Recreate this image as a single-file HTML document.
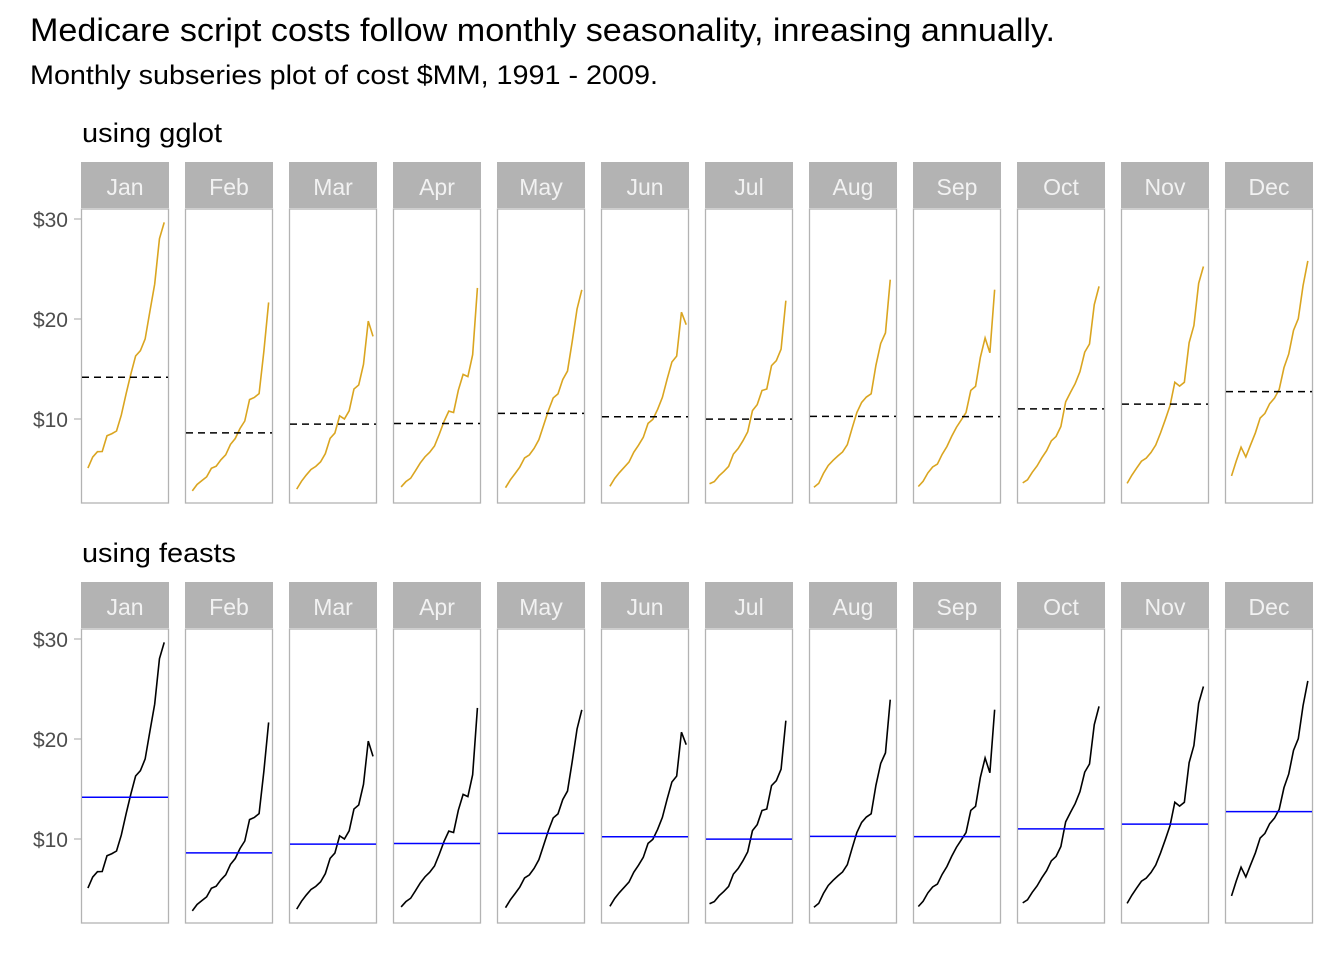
<!DOCTYPE html>
<html><head><meta charset="utf-8"><style>
body{margin:0;background:#fff;font-family:"Liberation Sans",sans-serif;}
svg text{font-family:"Liberation Sans",sans-serif;}
</style></head><body>
<svg id="chart" width="1344" height="960" xmlns="http://www.w3.org/2000/svg">
<text x="30" y="41" font-size="32" textLength="1025" lengthAdjust="spacingAndGlyphs" fill="#000">Medicare script costs follow monthly seasonality, inreasing annually.</text>
<text x="30" y="84" font-size="27" textLength="628" lengthAdjust="spacingAndGlyphs" fill="#000">Monthly subseries plot of cost $MM, 1991 - 2009.</text>
<g id="plots"></g>
</svg>
<script>
const months=["Jan","Feb","Mar","Apr","May","Jun","Jul","Aug","Sep","Oct","Nov","Dec"];
const yTicks=[10,20,30];
const yTickLabels=["$10","$20","$30"];
// a10 monthly values, Jul 1991 - Jun 2008
const series1991=[3.526591,3.180891,3.252221,3.611003,3.565869,4.306371];
const s1992=[5.088335,2.814520,2.985811,3.204780,3.127578,3.270523,3.737851,3.558776,3.777202,3.924490,4.386531,5.810549];
const s1993=[6.192068,3.450857,3.772307,3.734303,3.905399,4.049687,4.315566,4.562185,4.608662,4.667851,5.093841,7.179962];
const s1994=[6.731473,3.841278,4.394076,4.075341,4.540645,4.645615,4.752607,5.350605,5.204455,5.301651,5.773742,6.204593];
const s1995=[6.749484,4.216067,4.949349,4.823045,5.194754,5.170787,5.256742,5.855277,5.490729,6.115293,6.088473,7.416598];
const s1996=[8.329452,5.069206,5.262610,5.597032,6.110996,5.689966,6.486121,6.300566,6.467288,6.828340,6.649683,8.606881];
const s1997=[8.524650,5.277161,5.714165,6.214031,6.411029,6.667000,7.050518,6.704155,7.250777,7.819136,7.398067,10.096401];
const s1998=[8.798710,5.918067,6.534490,6.675896,7.064738,7.383381,7.813750,7.431013,8.275862,8.260494,8.596739,10.558939];
const s1999=[10.391775,6.421214,8.062239,7.297340,7.936988,8.165723,8.717420,9.070964,9.177113,9.251887,9.933136,11.532974];
const s2000=[12.511462,7.457199,8.591191,8.474000,9.386803,9.560399,10.834295,10.643751,9.908162,11.710041,11.340151,12.079132];
const s2001=[14.497581,8.049275,10.312891,9.753358,10.850382,9.961719,11.443601,11.659239,10.647060,12.652134,13.674466,12.965735];
const s2002=[16.300269,9.053485,10.002449,10.788750,12.106705,10.954101,12.844566,12.196500,12.854748,13.542004,13.287640,15.134918];
const s2003=[16.828350,9.800215,10.816994,10.654223,12.512323,12.161210,12.998046,12.517276,13.268658,14.733622,13.669382,16.503966];
const s2004=[18.003768,11.938030,12.997900,12.882645,13.943447,13.989472,15.339097,15.370764,16.142005,16.685754,17.636728,18.869325];
const s2005=[20.778723,12.154552,13.402392,14.459239,14.795102,15.705248,15.829550,17.554701,18.100864,17.496668,19.347265,20.031291];
const s2006=[23.486694,12.536987,15.467018,14.233539,17.783058,16.291602,16.980282,18.612189,16.623343,21.430241,23.575517,23.334206];
const s2007=[28.038383,16.763869,19.792754,16.427305,21.000742,20.681002,21.834890,23.930204,22.930357,23.263340,25.250030,25.806090];
const s2008=[29.665356,21.654285,18.264945,23.107677,22.912510,19.431740];
const yearsFull=[s1992,s1993,s1994,s1995,s1996,s1997,s1998,s1999,s2000,s2001,s2002,s2003,s2004,s2005,s2006,s2007];

const NS="http://www.w3.org/2000/svg";
function mk(tag,attrs,parent){const e=document.createElementNS(NS,tag);for(const k in attrs)e.setAttribute(k,attrs[k]);parent.appendChild(e);return e;}
const pts=months.map(()=>[]);
series1991.forEach((v,i)=>pts[6+i].push([1991+(6+i)/12,v]));
yearsFull.forEach((arr,yi)=>arr.forEach((v,m)=>pts[m].push([1992+yi+m/12,v])));
s2008.forEach((v,m)=>pts[m].push([2008+m/12,v]));

const xMin=1990.55,xMax=2009.0,pw=88;
function xS(px,t){return px+pw*(t-xMin)/(xMax-xMin);}
const root=document.getElementById('plots');
const rows=[{label:"using gglot",lw2:140,top:162,color:"#DAA520",mean:"#000",dash:"7,5",lw:1.6},
            {label:"using feasts",lw2:154,top:582,color:"#000",mean:"#0000ff",dash:"",lw:1.6}];
rows.forEach((r,ri)=>{
  const g=mk('g',{},root);
  
  
  const lab=mk('text',{x:82,y:r.top-20,'font-size':27,fill:'#000',textLength:r.lw2,lengthAdjust:'spacingAndGlyphs'},g);
  
  
  lab.textContent=r.label;
  const pTop=r.top+47,pBot=r.top+341;
  const base=r.top+357;
  const yS=v=>base-10*v;
  yTicks.forEach((t,i)=>{
    const tx=mk('text',{x:68,y:yS(t)+8,'font-size':21,fill:'#4d4d4d','text-anchor':'end'},g);
    
    
    tx.textContent=yTickLabels[i];
    const tk=mk('line',{x1:74,x2:81,y1:yS(t),y2:yS(t),stroke:'#b3b3b3','stroke-width':1.2},g);
    
    
  });
  months.forEach((m,mi)=>{
    const px=81+mi*104;
    const st=mk('rect',{x:px,y:r.top,width:pw,height:46,fill:'#b3b3b3'},g);
    
    
    const stx=mk('text',{x:px+pw/2,y:r.top+33,'font-size':23,fill:'#f2f2f2','text-anchor':'middle'},g);
    
    
    stx.textContent=m;
    const pr=mk('rect',{x:px+0.5,y:pTop,width:pw-1,height:pBot-pTop,fill:'#fff',stroke:'#b3b3b3','stroke-width':1.3},g);
    
    
    const p=pts[mi];
    const d=p.map((q,i)=>(i?'L':'M')+xS(px,q[0]).toFixed(2)+','+yS(q[1]).toFixed(2)).join('');
    const ln=mk('path',{d:d,fill:'none',stroke:r.color,'stroke-width':r.lw},g);
    
    
    const mean=p.reduce((a,q)=>a+q[1],0)/p.length;
    const ml=mk('line',{x1:px+1,x2:px+pw-1,y1:yS(mean),y2:yS(mean),stroke:r.mean,'stroke-width':1.5},g);
    if(r.dash)ml.setAttribute('stroke-dasharray',r.dash);
    
    
  });
});
</script>
</body></html>
